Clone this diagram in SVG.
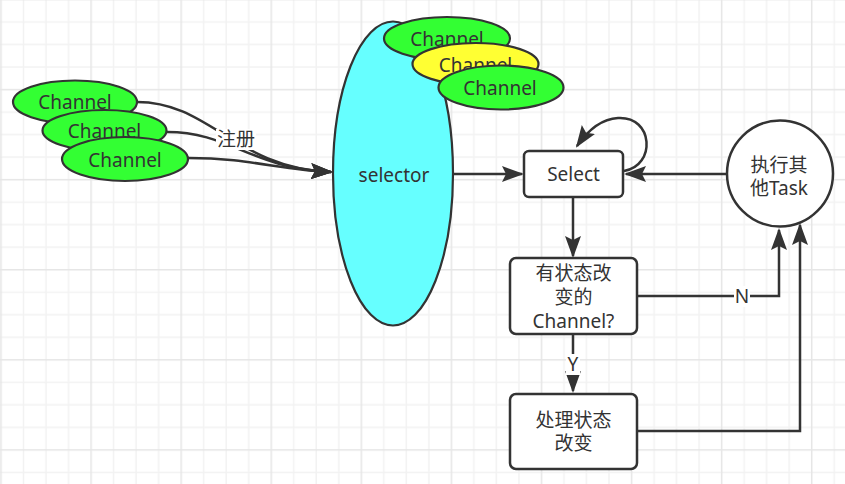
<svg xmlns="http://www.w3.org/2000/svg" width="845" height="484" viewBox="0 0 845 484">
<defs>
<pattern id="grid" patternUnits="userSpaceOnUse" x="0.25" y="-1.25" width="90.08" height="90.08">
<g fill="#f2f2f2">
<rect x="22.52" y="0" width="1.5" height="90.08"/>
<rect x="45.04" y="0" width="1.5" height="90.08"/>
<rect x="67.56" y="0" width="1.5" height="90.08"/>
<rect x="0" y="22.52" width="90.08" height="1.5"/>
<rect x="0" y="45.04" width="90.08" height="1.5"/>
<rect x="0" y="67.56" width="90.08" height="1.5"/>
</g>
<g fill="#e6e6e6">
<rect x="0" y="0" width="1.5" height="90.08"/>
<rect x="0" y="0" width="90.08" height="1.5"/>
</g>
</pattern>
<marker id="arr" markerUnits="userSpaceOnUse" viewBox="0 0 22 16" markerWidth="22" markerHeight="16" refX="20" refY="8" orient="auto">
<path d="M0,0 L22,8 L0,16 L4,8 z" fill="#333"/>
</marker>
<style>
.ch{stroke:#333;stroke-width:2.2}
.green{fill:#33ff33}
.yellow{fill:#ffff33}
.box{fill:#fff;stroke:#333;stroke-width:2.5}
.t{font-family:"Noto Sans","Noto Sans CJK SC",sans-serif;font-size:19px;fill:#333;text-anchor:middle}
.e{fill:none;stroke:#333;stroke-width:2.5;marker-end:url(#arr)}
.lb{fill:#fff}
</style>
</defs>
<rect width="845" height="484" fill="#fff"/>
<rect width="845" height="484" fill="url(#grid)"/>

<g id="selector">
<ellipse cx="393" cy="173.5" rx="60" ry="152" fill="#66ffff" class="ch"/>
<text class="t" x="394" y="182">selector</text>
</g>

<g id="channel-left-1">
<ellipse class="ch green" cx="75" cy="102" rx="62" ry="21.5"/>
<text class="t" x="75" y="109">Channel</text>
</g>
<g id="channel-left-2">
<ellipse class="ch green" cx="104.5" cy="130.5" rx="62" ry="20.5"/>
<text class="t" x="104.5" y="138">Channel</text>
</g>
<g id="channel-left-3">
<ellipse class="ch green" cx="125" cy="159" rx="63" ry="22"/>
<text class="t" x="125" y="166.5">Channel</text>
</g>

<g id="channel-top-1">
<ellipse class="ch green" cx="447" cy="38.5" rx="63" ry="21.5"/>
<text class="t" x="447" y="46">Channel</text>
</g>
<g id="channel-top-2">
<ellipse class="ch yellow" cx="475.5" cy="64" rx="63" ry="21"/>
<text class="t" x="475.5" y="71.5">Channel</text>
</g>
<g id="channel-top-3">
<ellipse class="ch green" cx="501" cy="87.5" rx="62.5" ry="22"/>
<text class="t" x="500" y="95">Channel</text>
</g>

<g id="select">
<rect class="box" x="524" y="151" width="99" height="46" rx="5"/>
<text class="t" x="573.5" y="181">Select</text>
</g>

<g id="other-task">
<circle class="box" cx="780" cy="173.5" r="53"/>
<text class="t" x="779" y="172">执行其<tspan x="779" dy="23">他Task</tspan></text>
</g>

<g id="decision">
<rect class="box" x="510" y="258" width="127" height="76" rx="6"/>
<text class="t" x="573.5" y="280">有状态改<tspan x="573.5" dy="24">变的</tspan><tspan x="573.5" dy="24">Channel?</tspan></text>
</g>

<g id="process">
<rect class="box" x="510" y="394" width="127" height="75" rx="6"/>
<text class="t" x="573.5" y="427">处理状态<tspan x="573.5" dy="23">改变</tspan></text>
</g>

<g id="connectors">
<path class="e" d="M137 102 C210 102, 235 168, 331 172"/>
<path class="e" d="M167 132 C230 132, 250 168, 331 172"/>
<path class="e" d="M188 158 C250 158, 280 170, 331 172"/>
<rect class="lb" x="216" y="129" width="40" height="21"/>
<text class="t" x="236" y="146">注册</text>

<path class="e" d="M453 174 L522 174"/>
<path class="e" d="M727 174 L626 174"/>
<path class="e" d="M624 171 C656 166, 654 116, 618 118 C600 119, 586 133, 577 146"/>
<path class="e" d="M573 197 L573 256"/>
<path class="e" d="M573 334 L573 391"/>
<rect class="lb" x="566" y="354" width="14" height="21"/>
<text class="t" x="573" y="371">Y</text>
<path class="e" d="M637 296 L779 296 L779 230"/>
<rect class="lb" x="734" y="286" width="16" height="21"/>
<text class="t" x="742" y="303">N</text>
<path class="e" d="M637 431 L800 431 L800 225"/>
</g>
</svg>
